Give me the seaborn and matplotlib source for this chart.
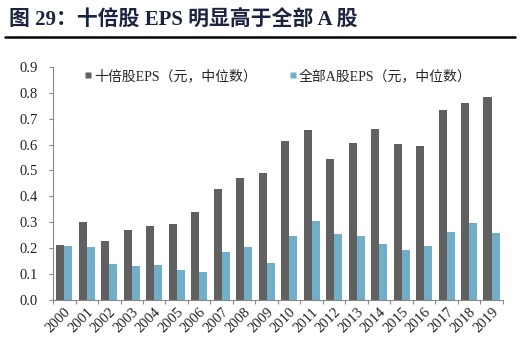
import matplotlib
matplotlib.use("Agg")
import matplotlib.pyplot as plt
import seaborn as sns
import pandas as pd
from matplotlib.lines import Line2D

years = [str(y) for y in range(2000, 2020)]
tenbagger_eps = [0.212, 0.300, 0.228, 0.270, 0.286, 0.292, 0.340, 0.430, 0.470, 0.490,
                 0.615, 0.656, 0.545, 0.606, 0.660, 0.601, 0.596, 0.735, 0.762, 0.785]
all_a_eps = [0.208, 0.203, 0.139, 0.130, 0.134, 0.116, 0.107, 0.185, 0.203, 0.144,
             0.245, 0.306, 0.255, 0.245, 0.217, 0.194, 0.208, 0.264, 0.296, 0.260]
series_names = ["十倍股EPS（元，中位数）", "全部A股EPS（元，中位数）"]
y_ticks = [0.0, 0.1, 0.2, 0.3, 0.4, 0.5, 0.6, 0.7, 0.8, 0.9]
title_text = "图 29：十倍股 EPS 明显高于全部 A 股"

df = pd.DataFrame({
    "year": years * 2,
    "eps": tenbagger_eps + all_a_eps,
    "series": [series_names[0]] * len(years) + [series_names[1]] * len(years),
})

sns.set_theme(style="white")
plt.rcParams['font.family'] = ['Liberation Serif', 'Noto Sans CJK SC', 'DejaVu Sans']

fig = plt.figure(figsize=(5.2, 3.5), dpi=100)
ax = fig.add_axes([0.102, 0.143, 0.865, 0.666])

palette = {series_names[0]: "#606060", series_names[1]: "#72aec8"}
sns.barplot(data=df, x="year", y="eps", hue="series", palette=palette,
            width=0.72, gap=0, ax=ax, saturation=1, edgecolor="none", linewidth=0)

ax.set_ylim(0, 0.9)
ax.set_xlim(-0.5, len(years) - 0.5)
ax.set_yticks(y_ticks)
ax.set_yticklabels([f"{t:.1f}" for t in y_ticks], fontsize=10.5, color="#222222")
ax.set_xticks(range(len(years)))
ax.set_xticklabels(years, rotation=45, fontsize=10.5, color="#222222",
                   ha="right", rotation_mode="anchor")
ax.set_xlabel("")
ax.set_ylabel("")

for s in ["top", "right"]:
    ax.spines[s].set_visible(False)
for s in ["left", "bottom"]:
    ax.spines[s].set_color("#888888")
    ax.spines[s].set_linewidth(0.8)
ax.tick_params(axis="both", which="both", direction="out", length=3, width=0.8,
               color="#888888", left=True, bottom=True)
ax.tick_params(axis="y", pad=8)
ax.set_xticks([i - 0.5 for i in range(len(years) + 1)], minor=True)
ax.tick_params(axis="x", which="major", length=0, pad=4)
ax.tick_params(axis="x", which="minor", length=3)

handles = [Line2D([0], [0], marker="s", linestyle="none", markersize=5,
                  markerfacecolor=palette[n], markeredgecolor="none") for n in series_names]
ax.legend(handles, series_names, loc="upper left", bbox_to_anchor=(0.04, 1.045),
          ncol=2, frameon=False, fontsize=10, handletextpad=0.1,
          columnspacing=2.2, handlelength=0.7)

fig.text(0.018, 0.93, title_text, fontsize=15, fontweight="bold", color="#1a2340",
         family=['Liberation Serif', 'Noto Sans CJK SC'])
fig.add_artist(Line2D([0.01, 0.99], [0.893, 0.893], color="black", linewidth=1.8,
                      transform=fig.transFigure))

fig.savefig("out.png", dpi=100, facecolor="white")
